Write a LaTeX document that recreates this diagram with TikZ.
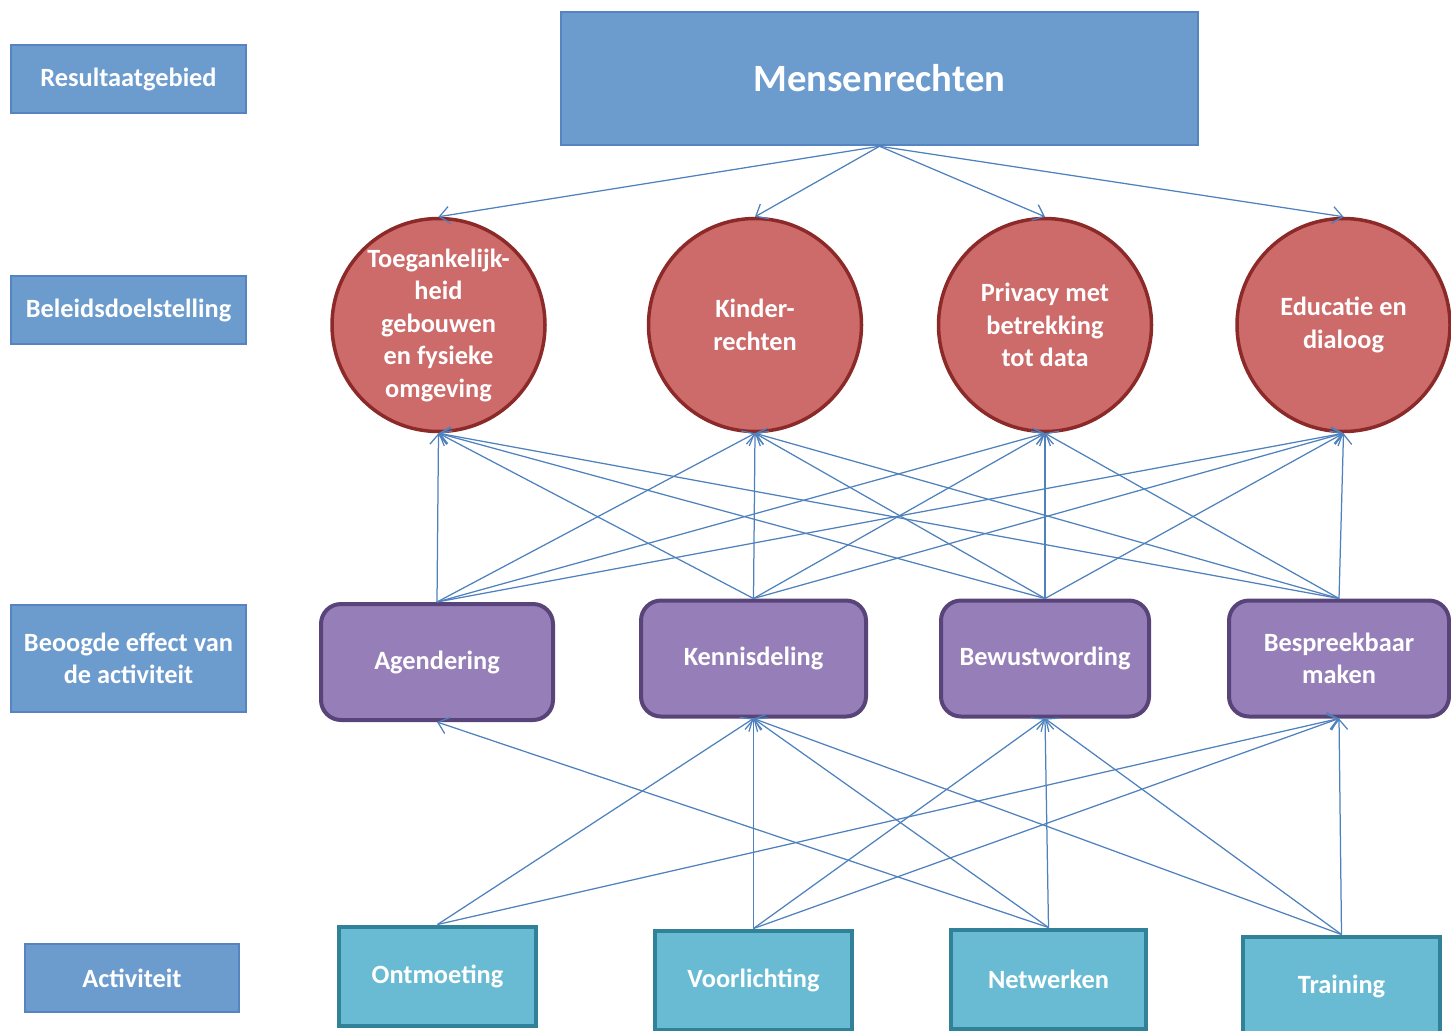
\documentclass[tikz,border=0pt]{standalone}
\usepackage{fontspec}
\setmainfont{Carlito}
\usetikzlibrary{arrows.meta}
\definecolor{lvlblue}{RGB}{108,155,205}
\definecolor{lvlrand}{RGB}{86,132,192}
\definecolor{doelrood}{RGB}{205,106,106}
\definecolor{doelrand}{RGB}{140,42,42}
\definecolor{effpaars}{RGB}{150,127,185}
\definecolor{effrand}{RGB}{88,68,120}
\definecolor{actblauw}{RGB}{104,187,210}
\definecolor{actrand}{RGB}{49,130,152}
\definecolor{pijlkleur}{RGB}{79,129,189}

\begin{document}
\begin{tikzpicture}[x=0.2mm,y=-0.2mm,
        every node/.style={font=\fontsize{15}{18.5}\selectfont\bfseries,text=white,align=center,inner sep=0pt},
        niveau/.style={fill=lvlblue,draw=lvlrand,line width=0.5mm,minimum width=47mm},
        doel/.style={circle,fill=doelrood,draw=doelrand,line width=0.7mm,minimum size=42.6mm},
        effect/.style={rounded corners=4mm,fill=effpaars,draw=effrand,line width=0.8mm,minimum height=23.2mm},
        activiteit/.style={fill=actblauw,draw=actrand,line width=0.8mm,minimum height=19.8mm,minimum width=39.4mm},
        pijl/.style={draw=pijlkleur,line width=0.25mm,-{Straight Barb[length=2mm,width=3.4mm]}}]
        \useasboundingbox (0,0) rectangle (1451,1030);

        \node[niveau,minimum height=13.6mm] (res) at (128.5,79) {Resultaatgebied};
        \node[niveau,minimum height=13.6mm] (bel) at (128.5,310) {Beleidsdoelstelling};
        \node[niveau,minimum height=21.4mm] (beo) at (128.5,658.5) {Beoogde effect van\\de activiteit};
        \node[niveau,minimum height=13.6mm,minimum width=42.8mm] (actlbl) at (132,978) {Activiteit};

        \node[niveau,minimum width=127.4mm,minimum height=26.6mm,font=\fontsize{22}{26}\selectfont\bfseries] (mensen) at (879.5,78.5) {Mensenrechten};

        \node[doel] (toeg) at (438.5,325) {Toegankelijk-\\heid\\gebouwen\\en fysieke\\omgeving};
        \node[doel] (kind) at (755,325) {Kinder-\\rechten};
        \node[doel] (priv) at (1045,325) {Privacy met\\betrekking\\tot data};
        \node[doel] (educ) at (1343.5,325) {Educatie en\\dialoog};

        \node[effect,minimum width=46.4mm] (agend) at (437,662) {Agendering};
        \node[effect,minimum width=45mm] (kennis) at (753.5,658.5) {Kennisdeling};
        \node[effect,minimum width=41.6mm] (bewust) at (1045,658.5) {Bewustwording};
        \node[effect,minimum width=44mm] (bespr) at (1339,658.5) {Bespreekbaar\\maken};

        \node[activiteit] (ontm) at (437.5,976) {Ontmoeting};
        \node[activiteit] (voorl) at (753.5,980) {Voorlichting};
        \node[activiteit,minimum width=39mm] (netw) at (1048.5,979) {Netwerken};
        \node[activiteit] (train) at (1341.5,986) {Training};

        \foreach \d in {toeg,kind,priv,educ}
            \draw[pijl] (mensen.south) -- (\d.north);
        \foreach \e in {agend,kennis,bewust,bespr}
            \foreach \d in {toeg,kind,priv,educ}
                \draw[pijl] (\e.north) -- (\d.south);
        \foreach \a/\e in {ontm/kennis,ontm/bespr,voorl/kennis,voorl/bewust,voorl/bespr,
                netw/agend,netw/kennis,netw/bewust,train/kennis,train/bewust,train/bespr}
            \draw[pijl] (\a.north) -- (\e.south);
\end{tikzpicture}
\end{document}
